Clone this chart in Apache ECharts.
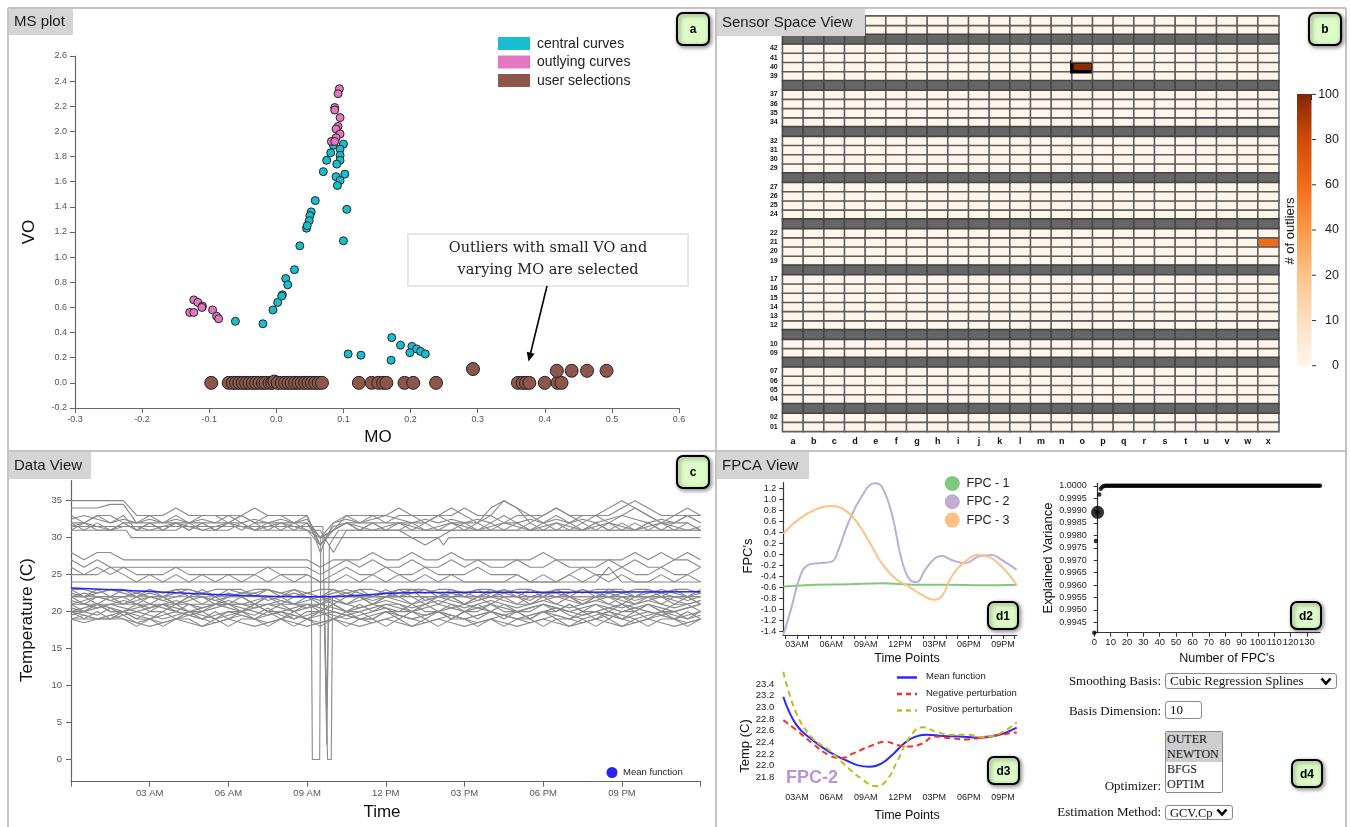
<!DOCTYPE html>
<html><head><meta charset="utf-8">
<script src="https://cdn.jsdelivr.net/npm/echarts@6/dist/echarts.min.js"></script>
<style>
html,body{margin:0;padding:0;background:#fff;}
#wrap{position:relative;width:1350px;height:827px;overflow:hidden;}
#chart{position:absolute;left:0;top:0;width:1350px;height:827px;}
.lbl{position:absolute;width:200px;text-align:right;font-family:"Liberation Serif","DejaVu Serif",serif;font-size:13px;color:#111;line-height:16px;}
.ctl{position:absolute;box-sizing:border-box;font-family:"Liberation Serif","DejaVu Serif",serif;font-size:13px;color:#111;background:#fff;border:1px solid #8a8a8a;border-radius:3px;margin:0;}
select.drop{-webkit-appearance:none;appearance:none;padding:0 15px 0 4px;line-height:14px;
 background:#fff url("data:image/svg+xml;utf8,<svg xmlns='http://www.w3.org/2000/svg' width='12' height='9'><path d='M1.5 1.5 L6 6.5 L10.5 1.5' stroke='black' stroke-width='2.6' fill='none'/></svg>") no-repeat right 4px center;}
select.list{border-radius:2px;padding:0;overflow:hidden;font-size:12px;}
select.list option{padding:0 1px;line-height:14.5px;}
input.ctl{padding:0 4px;}
</style></head>
<body><div id="wrap"><div id="chart"></div>
<div class="lbl" style="left:961px;top:673px;">Smoothing Basis:</div>
<select class="ctl drop" style="left:1165px;top:673px;width:172px;height:16px;"><option>Cubic Regression Splines</option><option>Thin Plate Regression Splines</option></select>
<div class="lbl" style="left:961px;top:703px;">Basis Dimension:</div>
<input class="ctl" style="left:1165px;top:701px;width:37px;height:18px;" value="10">
<select class="ctl list" multiple size="4" style="left:1165px;top:731px;width:58px;height:62px;"><option selected>OUTER</option><option selected>NEWTON</option><option>BFGS</option><option>OPTIM</option></select>
<div class="lbl" style="left:961px;top:778px;">Optimizer:</div>
<div class="lbl" style="left:961px;top:804px;">Estimation Method:</div>
<select class="ctl drop" style="left:1165px;top:805px;width:68px;height:15px;font-size:12.5px;"><option>GCV.Cp</option><option>REML</option></select>
</div>
<script>
// ================= Panel a : MS plot =================
const centralMO = [0.085,0.100,0.095,0.081,0.095,0.075,0.095,0.090,0.070,0.102,0.089,0.095,0.091,0.058,0.105,0.052,0.050,0.049,0.100,0.045,0.046,0.035,0.027,0.014,0.017,0.009,0.008,0.002,-0.005,-0.061,-0.020,0.107,0.126,0.172,0.185,0.202,0.209,0.199,0.215,0.222,0.171];
const centralVO = [1.89,1.90,1.86,1.83,1.81,1.77,1.77,1.74,1.68,1.66,1.64,1.61,1.57,1.45,1.38,1.36,1.33,1.29,1.13,1.23,1.25,1.09,0.90,0.83,0.78,0.70,0.69,0.64,0.58,0.49,0.47,0.23,0.22,0.36,0.30,0.29,0.27,0.24,0.25,0.23,0.18];
const outlyingMO = [0.094,0.092,0.087,0.087,0.095,0.092,0.089,0.095,0.089,0.082,0.087,-0.123,-0.117,-0.110,-0.111,-0.129,-0.123,-0.095,-0.089,-0.086];
const outlyingVO = [2.34,2.30,2.19,2.17,2.11,2.04,2.02,1.98,1.95,1.92,1.92,0.66,0.64,0.61,0.60,0.56,0.56,0.58,0.53,0.51];
const selectedMO = [-0.097,-0.071,-0.065,-0.060,-0.055,-0.050,-0.045,-0.040,-0.035,-0.030,-0.025,-0.020,-0.016,-0.010,-0.006,-0.003,0.002,0.008,0.013,0.018,0.023,0.028,0.033,0.038,0.043,0.048,0.053,0.058,0.063,0.068,0.123,0.142,0.152,0.159,0.164,0.191,0.204,0.238,0.360,0.367,0.372,0.377,0.400,0.419,0.425,0.293,0.418,0.440,0.463,0.492];
const selectedVO = [0,0,0,0,0,0,0,0,0,0,0,0,0,0,0,0.01,0,0,0,0,0,0,0,0,0,0,0,0,0,0,0,0,0,0,0,0,0,0,0,0,0,0,0,0,0,0.11,0.096,0.096,0.096,0.096];
const msLegend = ['central curves','outlying curves','user selections'];
const msColors = ['#17becf','#e377c2','#8c564b'];

// ================= Panel b : Sensor Space View =================
const sensorCols = ['a','b','c','d','e','f','g','h','i','j','k','l','m','n','o','p','q','r','s','t','u','v','w','x'];
const sensorRows = ['01','02','03','04','05','06','07','08','09','10','11','12','13','14','15','16','17','18','19','20','21','22','23','24','25','26','27','28','29','30','31','32','33','34','35','36','37','38','39','40','41','42','43','44','45'];
const darkRows = ['03','08','11','18','23','28','33','38','43'];
const outlierCells = [['o','40',96],['x','21',62]];
const selectedSensor = ['o','40'];
const colorbarTicks = [0,10,20,40,60,80,100];
const orangeScale = ['#fff5eb','#fee6ce','#fdd0a2','#fdae6b','#fd8d3c','#f16913','#d94801','#a63603','#7f2704'];

// ================= Panel c : Data View =================
const timeGrid = [0,0.5,1,1.5,2,2.5,3,3.5,4,4.5,5,5.5,6,6.5,7,7.5,8,8.5,9,9.5,10,10.5,11,11.5,12,12.5,13,13.5,14,14.5,15,15.5,16,16.5,17,17.5,18,18.5,19,19.5,20,20.5,21,21.5,22,22.5,23,23.5,24];
const u1 = [35,35,35,35,35,33,33,33,34,33, 33,33,33,33,34,33,33,33,33,29, 31,33,33,33,33,34,33,33,33,33, 34,33,33,35,34,33,33,34,33,33, 33,33,34,35,34,33,33,34,33];
const u2 = [34,34,34,34.5,34.5,32,33,32,33,32, 33,33,32,33,32,33,33,32,33,28, 32,33,32,33,32,33,33,32,33,34, 33,32,33,32,33,33,32,33,32,33, 33,32,33,34,33,32,33,33,32];
const u3 = [33,32,33,32,33,31,32,31,32,31, 32,31,32,32,31,32,31,32,31,30, 31,32,31,32,31,32,31,32,31,32, 31,32,31,32,32,31,32,31,32,31, 32,31,32,31,32,31,32,32,31];
const u4 = [32,31,32,31,32,31,31,31,31,32, 31,31,31,32,31,31,31,31,31,31, 28,31,31,31,31,31,32,31,31,31, 31,31,31,31,31,32,31,31,31,31, 32,31,31,31,32,31,31,31,31];
const u5 = [32,32,33,33,32,32,32,32,32,32, 32,32,32,33,32,32,32,32,32,30, 31,32,32,32,32,32,32,32,33,32, 32,32,34,35,34,32,33,34,33,32, 33,34,35,34,33,32,32,33,33];
const u6 = [31,32,31,31,32,31,32,31,32,31, 32,31,32,31,32,31,32,31,32,29, 31,32,31,32,31,31,30,29,30,31, 32,31,32,31,32,31,31,32,31,32, 31,32,31,32,31,32,31,32,31];
const u7 = [32.5,33,32.5,32,32.5,32,32.5,32,32.5,32, 32.5,32,33,32,32.5,32,32.5,32,32.5,30, 32,32.5,32,32.5,33,32.5,32,32.5,32,32.5, 32,32.5,32,33,32,32.5,32,32.5,32,32.5, 32,32.5,33,32.5,32,32.5,32,33,32];
const u8 = [31.5,32,31.5,31,31.5,31.5,31,31.5,32,31.5, 31,31.5,32,31.5,31,31.5,32,31.5,31,29, 31.5,32,31.5,31,31.5,32,31.5,31,31.5,32, 31.5,31,31.5,32,31.5,31,31.5,32,31.5,31, 31.5,32,31.5,31,31.5,32,31.5,31,31.5];
const m1 = [28,27,28,28,27,27,27,27,27,27, 27,27,27,27,27,27,27,27,27,26, 27,27,27,28,27,27,28,27,27,28, 27,27,27,27,27,27,28,27,27,27, 27,27,27,28,27,28,27,28,27];
const m2 = [27,26,27,26,26,26,26,26,26,26, 26,26,26,26,26,26,26,26,26,25, 26,27,26,27,26,26,27,26,26,27, 26,27,26,26,27,26,26,27,26,26, 26,27,26,27,26,26,27,27,26];
const m3 = [26,25,26,25,26,25,25,25,26,25, 25,25,25,25,25,26,25,25,25,24, 25,26,25,25,26,25,25,26,25,25, 25,26,25,25,25,24,25,24,25,26, 25,25,26,25,25,26,25,25,26];
const m4 = [25,25,25,26,25,24,25,24,25,24, 25,24,25,24,25,24,25,24,25,24, 24,25,24,25,24,25,24,25,24,25, 24,24,24,24,25,24,24,24,25,24, 25,24,25,24,24,25,24,25,24];
const m5 = [24,24,24,24,24,24,24,24,24,24, 24,24,24,24,24,24,24,24,24,24, 24,24,24,24,24,24,24,24,24,24, 24,24,24,24,24,24,24,24,24,24, 24,26,24,24,24,24,24,24,24];
const l1 = [23,22,23,22,23,22,23,22,23,22, 23,22,23,23,22,23,22,23,22,22, 23,22,23,22,23,22,23,23,22,23, 22,23,22,23,22,23,22,23,22,23, 22,23,23,22,23,22,23,22,23];
const l2 = [22,21,22,22,21,22,21,22,21,22, 21,22,21,22,21,22,21,22,22,21, 22,21,22,21,22,22,21,22,21,22, 21,22,21,22,22,21,22,21,22,21, 22,21,22,21,22,22,21,22,21];
const l3 = [21,21.5,22,21.5,21,21.5,22,21.5,21,21.5, 22,21.5,21,21,21.5,22,21.5,21,21.5,22, 21.5,21,21.5,22,22,21.5,21,21.5,22,21.5, 21,21.5,22,21.5,21,21,21.5,22,21.5,21, 21.5,22,21.5,21,21.5,22,21.5,21,21.5];
const l4 = [21,20,21,20,20,21,20,21,20,21, 20,21,21,20,21,20,21,20,21,20, 21,20,21,20,21,21,20,21,20,21, 20,21,20,21,20,20,21,20,21,20, 21,20,21,20,21,20,21,21,20];
const l5 = [20.5,20,20.5,21,20.5,20,20.5,21,20.5,20, 20.5,21,20.5,20,20.5,21,20.5,20,20.5,21, 20.5,20,20.5,21,20.5,20,20,20.5,21,20.5, 20,20.5,21,20.5,20,20.5,21,20.5,20,20.5, 21,20.5,20,20.5,21,20.5,20,20.5,21];
const l6 = [20,19,20,19,20,19,19,20,19,20, 19,20,19,20,19,20,19,20,19,20, 19,20,19,19,20,19,20,19,20,19, 20,19,20,19,20,19,20,19,19,20, 19,20,19,20,19,20,19,20,19];
const l7 = [19,19,19,19,19,18,19,18,19,19, 18,19,18,19,19,18,19,18,19,18, 19,18,19,19,18,19,18,19,18,19, 19,18,19,18,19,19,18,19,18,19, 18,19,18,19,18,19,19,18,19];
const l8 = [22.5,22,22.5,23,22.5,22,22.5,22,22.5,23, 22.5,22,22.5,22,22.5,23,22.5,22,22.5,22, 22.5,23,22.5,22,22.5,22,22.5,23,22.5,22, 22.5,22,22.5,23,22.5,22,22.5,22,22.5,23, 22.5,22,22.5,22,22.5,23,22.5,22,22.5];
const l9 = [19.5,20,19.5,20.5,19.5,20,19.5,19,19.5,20, 19.5,19,19.5,20,19.5,20.5,19.5,19,19.5,20, 19.5,19,19.5,20,20.5,19.5,19,19.5,20,19.5, 19,19.5,20,19.5,19,19.5,20,20.5,19.5,19, 19.5,20,19.5,19,19.5,20,19.5,19,19.5];
const l10 = [22,22,21,22,22,21,22,22,21,22, 22,21,22,22,21,22,22,21,22,22, 21,22,22,21,22,23,22,21,22,22, 21,22,23,22,21,22,22,23,22,21, 22,22,21,22,22,21,22,22,21];
const l11 = [20,20,21,20,20,19,20,20,21,20, 20,19,20,20,21,20,20,19,20,20, 21,20,20,19,20,20,21,20,20,19, 20,20,21,20,20,19,20,20,21,20, 20,19,20,20,21,20,20,19,20];
const l12 = [19,19.5,19,19,19.5,18.5,19,18.5,19,19.5, 19,18.5,19,19.5,19,18.5,19,19.5,19,18.5, 19,19.5,19,18.5,19,19.5,19,18.5,19,19.5, 19,18.5,19,19.5,19,18.5,19,19.5,19,18.5, 19,19.5,19,18.5,19,19.5,19,18.5,19];
const l13 = [22,22.5,22,21.5,22,22.5,22,21.5,22,22.5, 22,21.5,22,22.5,22.5,21.5,22,22.5,22,21.5, 22,22.5,22,21.5,22,22.5,23,21.5,22,22.5, 22,21.5,22,22.5,22,21.5,22.5,22.5,22,21.5, 22,22.5,22,21.5,22,22.5,22,21.5,22];
const l14 = [20,20.5,21,20.5,20,20.5,21,20.5,20,19.5, 20,20.5,21,20.5,20,19.5,20,20.5,21,20.5, 20,19.5,20,20.5,21,20.5,20,19.5,20,20.5, 21,20.5,20,19.5,20,20.5,21,20.5,20,19.5, 20,20.5,21,20.5,20,19.5,20,20.5,21];
const l15 = [23,23,22.5,23,23,22.5,23,22.5,23,23, 22.5,23,23,22.5,23,23,22.5,23,22.5,23, 23,22.5,23,23,22.5,23,23,22.5,23,23, 22.5,23,23,22.5,23,23,22.5,23,23,22.5, 23,23,22.5,23,23,22.5,23,23,22.5];
const l16 = [19,18.5,19,19.5,19,18.5,18,18.5,19,18.5, 18,18.5,19,18.5,18,18.5,19,18.5,18,18.5, 19,18.5,18,18.5,19,18.5,18,18.5,19,18.5, 18,18.5,19,18.5,18,18.5,19,18.5,18,18.5, 19,18.5,18,18.5,19,18.5,18,18.5,19];
const l17 = [21.5,21,20.5,21,21.5,21,20.5,21,21.5,21, 20.5,21,21.5,21,20.5,21,21.5,21,20.5,21, 21.5,21,20.5,21,21.5,21,20.5,21,21.5,21, 20.5,21,21.5,21,20.5,21,21.5,21,20.5,21, 21.5,21,20.5,21,21.5,21,20.5,21,21.5];
const l18 = [20,19.5,19,19.5,20,19.5,19,19.5,20,19.5, 19,19.5,20,19.5,19,19.5,20,19.5,19,19.5, 20,19.5,19,19.5,20,19.5,19,19.5,20,19.5, 19,19.5,20,19.5,19,19.5,20,19.5,19,19.5, 20,19.5,19,19.5,20,19.5,19,19.5,20];
const sensorSeries = [u1,u2,u3,u4,u5,u6,u7,u8,m1,m2,m3,m4,m5,l1,l2,l3,l4,l5,l6,l7,l8,l9,l10,l11,l12,l13,l14,l15,l16,l17,l18];
const dipA = [[0,31],[2.1,31],[2.3,30],[9.15,30],[9.2,0],[9.48,0],[9.52,30],[14,30],[14.2,29],[14.4,30],[24,30]];
const dipB = [[0,21],[9.65,21],[9.78,0],[9.92,0],[9.97,22],[24,22]];
const dipC = [[0,31.5],[9.6,31.5],[9.75,2],[9.85,29],[10.2,31],[24,31]];
const dipD = [[0,22],[9.65,22],[9.75,7],[9.82,22],[24,22]];
const meanC = [[0,23.2],[2,22.9],[4,22.55],[6,22.25],[8,22.05],[9,22.0],[10,22.05],[11,22.2],[12,22.45],[13,22.55],[15,22.6],[18,22.6],[21,22.65],[24,22.7]];
const cTimeTicks = [3,6,9,12,15,18,21];
const cTimeLabels = ['03 AM','06 AM','09 AM','12 PM','03 PM','06 PM','09 PM'];
const cTempTicks = [0,5,10,15,20,25,30,35];

// ================= Panel d1 : FPCs =================
const fpc1 = [[1.8,-0.58],[4.6,-0.55],[7.5,-0.54],[10.4,-0.52],[13.3,-0.55],[16.2,-0.55],[19.2,-0.56],[22.2,-0.55]];
const fpc2 = [[1.8,-1.46],[2.53,-0.95],[3.26,-0.40],[3.98,-0.19],[4.86,-0.16],[6.03,-0.13],[6.61,0.08],[7.48,0.57],[8.65,1.05],[9.81,1.29],[10.4,1.23],[11.27,0.75],[12.15,-0.10],[12.87,-0.46],[13.46,-0.50],[14.19,-0.28],[15.06,-0.07],[15.65,-0.03],[16.52,-0.10],[17.69,-0.16],[18.85,-0.04],[20.02,-0.01],[20.89,-0.10],[22.2,-0.28]];
const fpc3 = [[1.8,0.38],[3.11,0.63],[4.57,0.81],[6.03,0.88],[6.9,0.84],[8.07,0.63],[9.23,0.26],[10.4,-0.16],[11.56,-0.43],[12.73,-0.58],[13.9,-0.73],[14.92,-0.82],[15.65,-0.76],[16.52,-0.40],[17.69,-0.13],[18.85,-0.01],[19.73,-0.04],[20.89,-0.22],[22.2,-0.55]];
const fpcNames = ['FPC - 1','FPC - 2','FPC - 3'];
const fpcColors = ['#7fc97f','#beaed4','#fdc086'];
const dTimeTicks = [3,6,9,12,15,18,21];
const dTimeLabels = ['03AM','06AM','09AM','12PM','03PM','06PM','09PM'];
const dHourTicks = [2,3,4,5,6,7,8,9,10,11,12,13,14,15,16,17,18,19,20,21,22];
const fpcValTicks = [-1.4,-1.2,-1.0,-0.8,-0.6,-0.4,-0.2,0,0.2,0.4,0.6,0.8,1.0,1.2];

// ================= Panel d2 : explained variance =================
const explainedVar = [0.99408,0.99778,0.99893,0.99965,0.99988,0.99996,0.99999,
1,1,1,1,1,1,1,1,1,1, 1,1,1,1,1,1,1,1,1,1, 1,1,1,1,1,1,1,1,1,1, 1,1,1,1,1,1,1,1,1,1,
1,1,1,1,1,1,1,1,1,1, 1,1,1,1,1,1,1,1,1,1, 1,1,1,1,1,1,1,1,1,1, 1,1,1,1,1,1,1,1,1,1,
1,1,1,1,1,1,1,1,1,1, 1,1,1,1,1,1,1,1,1,1, 1,1,1,1,1,1,1,1,1,1, 1,1,1,1,1,1,1,1,1,1,
1,1,1,1,1,1,1,1,1,1, 1,1];
const selectedFpc = 2;
const varTicks = [0.9945,0.995,0.9955,0.996,0.9965,0.997,0.9975,0.998,0.9985,0.999,0.9995,1.0];
const fpcCountTicks = [0,10,20,30,40,50,60,70,80,90,100,110,120,130];

// ================= Panel d3 : perturbation =================
const meanFn = [[1.8,23.18],[2.94,22.70],[4.36,22.44],[5.78,22.24],[7.2,22.10],[8.27,22.01],[9.33,21.98],[10.4,22.04],[11.46,22.21],[12.35,22.38],[13.24,22.49],[14.31,22.53],[15.73,22.51],[17.15,22.50],[18.93,22.48],[20.7,22.53],[22.2,22.65]];
const negPert = [[1.8,22.78],[2.94,22.61],[4.36,22.38],[5.78,22.18],[6.85,22.13],[7.91,22.21],[9.33,22.33],[10.75,22.41],[11.82,22.35],[12.89,22.33],[13.95,22.38],[15.02,22.50],[16.44,22.47],[17.86,22.45],[19.28,22.49],[20.7,22.53],[22.2,22.57]];
const posPert = [[1.8,23.61],[2.94,22.9],[4.36,22.47],[5.78,22.27],[7.2,22.01],[8.62,21.78],[9.87,21.65],[10.75,21.73],[11.82,22.1],[12.89,22.5],[13.95,22.66],[15.2,22.58],[16.44,22.53],[17.86,22.53],[19.28,22.49],[20.7,22.55],[22.2,22.74]];
const pertNames = ['Mean function','Negative perturbation','Positive perturbation'];
const pertColors = ['#2a2aff','#ff2a2a','#bcbd22'];
const tempTicksD3 = [21.8,22.0,22.2,22.4,22.6,22.8,23.0,23.2,23.4];

// ================= build option =================
const FONT = '"Liberation Sans", Arial, Helvetica, sans-serif';
function merge(a,b){const o=Array.isArray(a)?a.slice():Object.assign({},a);for(const k in b){if(b[k]&&typeof b[k]==='object'&&!Array.isArray(b[k])&&a&&typeof a[k]==='object'&&!Array.isArray(a[k]))o[k]=merge(a[k],b[k]);else o[k]=b[k];}return o;}
const baseVal = {type:'value',splitLine:{show:false},
  axisLine:{show:true,onZero:false,lineStyle:{color:'#666',width:1.2}},
  axisTick:{show:true,length:5,lineStyle:{color:'#666'}},
  axisLabel:{fontSize:9,color:'#555',fontFamily:FONT}};
const fmt1 = v=>v.toFixed(1);

const grids = [
  {left:75,top:56,width:604,height:352},
  {left:782.7,top:16.1,width:496,height:415.3},
  {left:71,top:480.7,width:629.6,height:301},
  {left:783.3,top:482.7,width:233.4,height:152.3},
  {left:1094.3,top:483.3,width:225.7,height:149.4},
  {left:783.3,top:671.7,width:233.4,height:115}
];

const xAxes = [
  merge(baseVal,{gridIndex:0,min:-0.3,max:0.6,interval:0.1,axisLabel:{formatter:fmt1,margin:7}}),
  {type:'category',gridIndex:1,data:sensorCols,axisLine:{show:false},axisTick:{show:false},splitLine:{show:false},
    axisLabel:{fontSize:9,fontWeight:'bold',color:'#111',margin:6,fontFamily:FONT}},
  merge(baseVal,{gridIndex:2,min:0,max:24,axisTick:{customValues:[0,3,6,9,12,15,18,21,24]},
    axisLabel:{customValues:cTimeTicks,formatter:v=>cTimeLabels[cTimeTicks.indexOf(v)],margin:7,fontSize:9.5}}),
  merge(baseVal,{gridIndex:3,min:1.8,max:22.2,axisLine:{lineStyle:{color:'#333'}},axisTick:{customValues:dHourTicks,length:4,lineStyle:{color:'#333'}},
    axisLabel:{customValues:dTimeTicks,formatter:v=>dTimeLabels[dTimeTicks.indexOf(v)],margin:5,color:'#222'}}),
  merge(baseVal,{gridIndex:4,min:0,max:138,axisLine:{lineStyle:{color:'#333'}},axisTick:{customValues:fpcCountTicks,length:4,lineStyle:{color:'#333'}},
    axisLabel:{customValues:fpcCountTicks,margin:5,color:'#222',fontSize:9.5}}),
  merge(baseVal,{gridIndex:5,min:1.8,max:22.2,axisLine:{show:false},axisTick:{show:false},
    axisLabel:{customValues:dTimeTicks,formatter:v=>dTimeLabels[dTimeTicks.indexOf(v)],margin:6,color:'#222'}})
];
const yAxes = [
  merge(baseVal,{gridIndex:0,min:-0.2,max:2.6,interval:0.2,axisLabel:{formatter:fmt1,margin:8}}),
  {type:'category',gridIndex:1,data:sensorRows,axisLine:{show:false},axisTick:{show:false},splitLine:{show:false},
    axisLabel:{fontSize:7,fontWeight:'bold',color:'#111',margin:5,fontFamily:FONT,interval:0,formatter:v=>darkRows.includes(v)?'':v}},
  merge(baseVal,{gridIndex:2,min:-3,max:37.7,axisTick:{customValues:cTempTicks},axisLabel:{customValues:cTempTicks,margin:9,fontSize:9.5}}),
  merge(baseVal,{gridIndex:3,min:-1.46,max:1.30,axisLine:{lineStyle:{color:'#333'}},axisTick:{customValues:fpcValTicks,length:4,lineStyle:{color:'#333'}},
    axisLabel:{customValues:fpcValTicks,formatter:fmt1,margin:7,color:'#222'}}),
  merge(baseVal,{gridIndex:4,min:0.99408,max:1.0001,offset:-3.4,axisLine:{lineStyle:{color:'#333'}},axisTick:{customValues:varTicks,length:4,lineStyle:{color:'#333'}},
    axisLabel:{customValues:varTicks,formatter:v=>v.toFixed(4),margin:11,color:'#222',fontSize:9}}),
  merge(baseVal,{gridIndex:5,min:21.64,max:23.61,axisLine:{show:false},axisTick:{show:false},
    axisLabel:{customValues:tempTicksD3,formatter:fmt1,margin:9,color:'#222',fontSize:9.5}})
];

const zip = (xs,ys)=>xs.map((x,i)=>[x,ys[i]]);
const series = [];
const scat = (name,data,color,size)=>({type:'scatter',name,xAxisIndex:0,yAxisIndex:0,data,symbolSize:size,silent:true,
  itemStyle:{color,borderColor:'#222',borderWidth:1,opacity:1}});
series.push(scat(msLegend[0],zip(centralMO,centralVO),msColors[0],8));
series.push(scat(msLegend[1],zip(outlyingMO,outlyingVO),msColors[1],8));
series.push(scat(msLegend[2],zip(selectedMO,selectedVO),msColors[2],13));

// heatmap
const heatNormal=[], heatDark=[];
sensorCols.forEach((c,ci)=>sensorRows.forEach((r,ri)=>{
  if(darkRows.includes(r)){heatDark.push([ci,ri,0]);return;}
  const o = outlierCells.find(d=>d[0]===c&&d[1]===r);
  const item = {value:[ci,ri,o?o[2]:0]};
  if(c===selectedSensor[0]&&r===selectedSensor[1]) item.itemStyle={borderColor:'#000',borderWidth:3.5};
  heatNormal.push(item);
}));
const heatNormalIdx = series.length;
series.push({type:'heatmap',xAxisIndex:1,yAxisIndex:1,data:heatNormal,silent:true,
  itemStyle:{borderColor:'#5e5e5e',borderWidth:1.6},emphasis:{disabled:true}});
series.push({type:'heatmap',xAxisIndex:1,yAxisIndex:1,data:heatDark,silent:true,
  itemStyle:{color:'#666',borderColor:'#444',borderWidth:1.6},emphasis:{disabled:true}});

// data view lines
const grayLine = data=>({type:'line',xAxisIndex:2,yAxisIndex:2,data,showSymbol:false,silent:true,
  lineStyle:{color:'#8a8a8a',width:1.1},z:2});
sensorSeries.forEach(vals=>series.push(grayLine(zip(timeGrid,vals))));
[dipA,dipB,dipC,dipD].forEach(d=>series.push(grayLine(d)));
series.push({type:'line',xAxisIndex:2,yAxisIndex:2,data:meanC,showSymbol:false,smooth:0.5,silent:true,lineStyle:{color:'#2222ff',width:1.5},z:3});

// d1
[fpc1,fpc2,fpc3].forEach((d,i)=>series.push({type:'line',name:fpcNames[i],xAxisIndex:3,yAxisIndex:3,data:d,smooth:0.45,showSymbol:false,silent:true,
  lineStyle:{color:fpcColors[i],width:2}}));
// d2
series.push({type:'scatter',xAxisIndex:4,yAxisIndex:4,data:explainedVar.map((v,i)=>[i,v]),symbolSize:4.5,silent:true,itemStyle:{color:'#000'}});
series.push({type:'scatter',xAxisIndex:4,yAxisIndex:4,data:[[selectedFpc,explainedVar[selectedFpc]]],symbolSize:13,silent:true,itemStyle:{color:'#000'}});
// d3
[meanFn,negPert,posPert].forEach((d,i)=>series.push({type:'line',name:pertNames[i],xAxisIndex:5,yAxisIndex:5,data:d,smooth:0.45,showSymbol:false,silent:true,
  lineStyle:{color:pertColors[i],width:2,type:i===0?'solid':[6,4]}}));

// ================= graphics =================
const G = [];
const T = (x,y,text,size,extra,style)=>G.push(Object.assign({type:'text',x,y,z:100,style:Object.assign({text,font:(size)+'px '+FONT,fill:'#111',align:'left',verticalAlign:'middle'},style||{})},extra||{}));
const R = (x,y,w,h,style,extra)=>G.push(Object.assign({type:'rect',shape:{x,y,width:w,height:h},z:100,style},extra||{}));
const L = (x1,y1,x2,y2,style)=>G.push({type:'line',z:100,shape:{x1,y1,x2,y2},style:Object.assign({stroke:'#c4c4c4',lineWidth:2},style||{})});
// panel borders
L(8,8,1346,8); L(8,8,8,827); L(716,8,716,827); L(8,451,1346,451); L(1346,8,1346,827);
// title boxes
const titleBox=(x,y,w,h,t)=>{R(x,y,w,h,{fill:'#d5d5d5'});T(x+5,y+h/2,t,15,{},{fill:'#1a1a1a'});};
titleBox(9,9,64,26,'MS plot'); titleBox(717,9,148,27,'Sensor Space View'); titleBox(9,452,82,27,'Data View'); titleBox(717,452,92,27,'FPCA View');
// badges
const badge=(x,y,w,h,t,fs)=>{R(x,y,w,h,{fill:'#dcfbc7',stroke:'#000',lineWidth:2,shadowBlur:4,shadowColor:'rgba(0,0,0,0.45)',shadowOffsetX:1.5,shadowOffsetY:1.5},{shape:{x,y,width:w,height:h,r:6}});
  T(x+w/2,y+h/2+1,t,fs,{},{align:'center',fontWeight:'bold',font:'bold '+fs+'px '+FONT,fill:'#000'});};
badge(677,13,32,32,'a',24); badge(1309,13,32,32,'b',24); badge(677,456,32,32,'c',24);
badge(988,602,30,27,'d1',19); badge(1291,602,30,27,'d2',19); badge(988,757,31,27,'d3',19); badge(1292,760,30,27,'d4',19);
// panel a texts
G.push({type:'text',x:29,y:232,rotation:Math.PI/2,z:100,style:{text:'VO',font:'17px '+FONT,fill:'#111',align:'center',verticalAlign:'middle'}});
T(378,437,'MO',17,{},{align:'center'});
msLegend.forEach((t,i)=>{R(498,37+i*18.5,32,13,{fill:msColors[i]});T(537,44+i*18.5,t,14,{},{fill:'#222'});});
R(408,234,280,52,{fill:'#fff',stroke:'#cfcfcf',lineWidth:1});
T(548,248,'Outliers with small VO and',14.5,{},{align:'center',font:'14.5px "DejaVu Serif", serif',fill:'#222'});
T(548,270,'varying MO are selected',14.5,{},{align:'center',font:'14.5px "DejaVu Serif", serif',fill:'#222'});
G.push({type:'line',z:100,shape:{x1:547,y1:286,x2:530.6,y2:353},style:{stroke:'#000',lineWidth:1.6}});
G.push({type:'polygon',z:100,shape:{points:[[528.5,361.5],[534.5,353.7],[526.8,351.8]]},style:{fill:'#000'}});
// panel b colorbar
R(1297,94,14.5,272,{fill:{type:'linear',x:0,y:0,x2:0,y2:1,colorStops:[
  {offset:0,color:'#7f2704'},{offset:1/6,color:'#d24a06'},{offset:2/6,color:'#f06c1c'},{offset:3/6,color:'#fd9849'},
  {offset:4/6,color:'#fdc289'},{offset:5/6,color:'#fee0c2'},{offset:1,color:'#fff5eb'}]}});
colorbarTicks.forEach((v,i)=>{const y=365.7-i*45.23; L(1312,y,1316,y,{stroke:'#333',lineWidth:1}); T(1339,y,String(v),12.5,{},{align:'right',fill:'#222'});});
L(1311.5,94,1311.5,100,{stroke:'#333',lineWidth:1});
G.push({type:'text',x:1290,y:231,rotation:Math.PI/2,z:100,style:{text:'# of outliers',font:'13px '+FONT,fill:'#111',align:'center',verticalAlign:'middle'}});
// panel c texts
G.push({type:'text',x:27,y:620,rotation:Math.PI/2,z:100,style:{text:'Temperature (C)',font:'17px '+FONT,fill:'#111',align:'center',verticalAlign:'middle'}});
T(382,812,'Time',17,{},{align:'center'});
G.push({type:'circle',z:100,shape:{cx:612,cy:772.5,r:5.5},style:{fill:'#2a20f0'}});
T(623,772.5,'Mean function',9.5,{},{fill:'#222'});
// d1 texts
G.push({type:'text',x:748,y:556,rotation:Math.PI/2,z:100,style:{text:"FPC's",font:'13px '+FONT,fill:'#111',align:'center',verticalAlign:'middle'}});
T(907,659,'Time Points',12.5,{},{align:'center'});
fpcNames.forEach((t,i)=>{G.push({type:'circle',z:100,shape:{cx:952.3,cy:483.5+i*18.3,r:7.5},style:{fill:fpcColors[i]}});T(966.5,483.5+i*18.3,t,12.5,{},{fill:'#222'});});
// d2 texts
G.push({type:'text',x:1048,y:558,rotation:Math.PI/2,z:100,style:{text:'Explained Variance',font:'13px '+FONT,fill:'#111',align:'center',verticalAlign:'middle'}});
T(1227,659,"Number of FPC's",12.5,{},{align:'center'});
// d3 texts
G.push({type:'text',x:745,y:746,rotation:Math.PI/2,z:100,style:{text:'Temp (C)',font:'13px '+FONT,fill:'#111',align:'center',verticalAlign:'middle'}});
T(907,816,'Time Points',12.5,{},{align:'center'});
pertNames.forEach((t,i)=>{const y=677.5+i*16.5;
  G.push({type:'line',z:100,shape:{x1:897,y1:y,x2:917,y2:y},style:{stroke:pertColors[i],lineWidth:2.5,lineDash:i===0?null:[5,4]}});
  T(926,y-1,t,9.5,{},{fill:'#222'});});
T(786,778,'FPC-2',18,{},{font:'bold 18px '+FONT,fill:'#b995d5'});

const option = {
  animation:false,
  textStyle:{fontFamily:FONT},
  grid:grids, xAxis:xAxes, yAxis:yAxes, series,
  visualMap:{type:'continuous',show:false,min:0,max:100,dimension:2,seriesIndex:heatNormalIdx,inRange:{color:orangeScale}},
  graphic:{elements:G}
};
const chart = echarts.init(document.getElementById('chart'),null,{renderer:'canvas'});
chart.setOption(option);
</script></body></html>
